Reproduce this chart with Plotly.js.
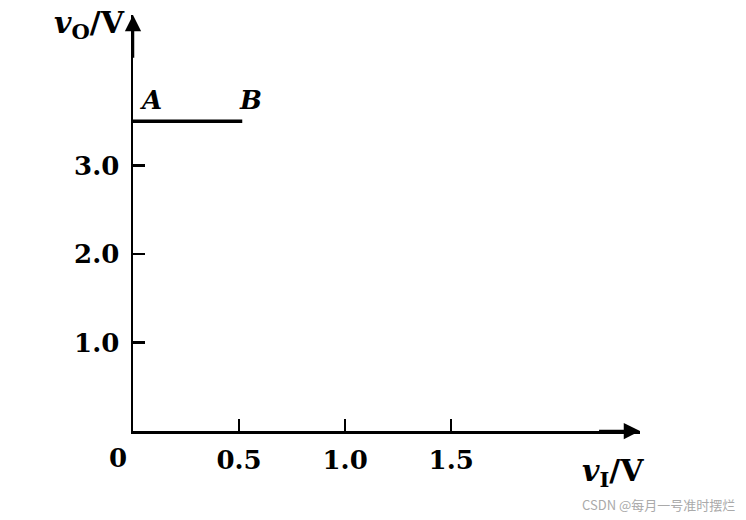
<!DOCTYPE html>
<html>
<head>
<meta charset="utf-8">
<script src="https://cdn.plot.ly/plotly-3.0.1.min.js"></script>
<style>html,body{margin:0;padding:0;background:#fff;}#chart{width:746px;height:520px;}</style>
</head>
<body>
<div id="chart"></div>
<script>
const segX = [0, 0.515];
const segY = [3.5, 3.5];
const xTickVals = [0.5, 1.0, 1.5];
const xTickText = ["0.5", "1.0", "1.5"];
const yTickVals = [1.0, 2.0, 3.0];
const yTickText = ["1.0", "2.0", "3.0"];
const pointLabels = ["A", "B"];
const xMax = 2.39;
const yMax = 4.70;

const serif = "DejaVu Serif, Liberation Serif, serif";

const trace = {
  x: segX, y: segY, mode: "lines", type: "scatter",
  line: {color: "#000", width: 3.5}, hoverinfo: "skip", showlegend: false, cliponaxis: false
};

const layout = {
  width: 746, height: 520,
  margin: {l: 133, r: 106, t: 15, b: 89},
  paper_bgcolor: "#fff", plot_bgcolor: "#fff",
  showlegend: false,
  xaxis: {
    range: [0, xMax], showgrid: false, zeroline: false,
    showline: true, linecolor: "#000", linewidth: 2.5,
    ticks: "inside", ticklen: 12, tickwidth: 2.5, tickcolor: "#000",
    tickvals: xTickVals, ticktext: xTickText.map(t => "<b>" + t + "</b>"),
    tickfont: {family: serif, size: 26, color: "#000"},
    ticklabelstandoff: 4
  },
  yaxis: {
    range: [0, yMax], showgrid: false, zeroline: false,
    showline: true, linecolor: "#000", linewidth: 2.5,
    ticks: "inside", ticklen: 12, tickwidth: 2.5, tickcolor: "#000",
    tickvals: yTickVals, ticktext: yTickText.map(t => "<b>" + t + "</b>"),
    tickfont: {family: serif, size: 26, color: "#000"},
    ticklabelstandoff: 6
  },
  annotations: [
    {xref: "x", yref: "y", axref: "x", ayref: "y", x: xMax, y: 0, ax: xMax - 0.2, ay: 0,
     showarrow: true, arrowhead: 2, arrowsize: 1.3, arrowwidth: 2.5, arrowcolor: "#000", text: ""},
    {xref: "x", yref: "y", axref: "x", ayref: "y", x: 0, y: yMax, ax: 0, ay: yMax - 0.5,
     showarrow: true, arrowhead: 2, arrowsize: 1.3, arrowwidth: 2.5, arrowcolor: "#000", text: ""},
    {xref: "paper", yref: "paper", x: 0, y: 0, xanchor: "right", yanchor: "top", xshift: -4, yshift: -10,
     text: "<b>0</b>", showarrow: false, font: {family: serif, size: 26, color: "#000"}},
    {xref: "x", yref: "y", x: segX[0], y: segY[0], xanchor: "left", yanchor: "bottom", xshift: 4, yshift: 4,
     text: "<b><i>" + pointLabels[0] + "</i></b>", showarrow: false, font: {family: serif, size: 26, color: "#000"}},
    {xref: "x", yref: "y", x: segX[1], y: segY[1], xanchor: "center", yanchor: "bottom", xshift: 8, yshift: 4,
     text: "<b><i>" + pointLabels[1] + "</i></b>", showarrow: false, font: {family: serif, size: 26, color: "#000"}},
    {xref: "paper", yref: "paper", x: 0, y: 1, xanchor: "right", yanchor: "top", xshift: -6, yshift: 12,
     text: "<b><i>v</i><sub>O</sub>/V</b>", showarrow: false, font: {family: serif, size: 30, color: "#000"}},
    {xref: "paper", yref: "paper", x: 1, y: 0, xanchor: "right", yanchor: "top", xshift: 6, yshift: -20,
     text: "<b><i>v</i><sub>I</sub>/V</b>", showarrow: false, font: {family: serif, size: 30, color: "#000"}},
    {xref: "paper", yref: "paper", x: 1, y: 0, xanchor: "right", yanchor: "top", xshift: 97, yshift: -62,
     text: "CSDN @每月一号准时摆烂", showarrow: false, font: {family: "Noto Sans CJK SC, sans-serif", size: 13, color: "#aaa"}}
  ]
};

Plotly.newPlot("chart", [trace], layout, {displayModeBar: false, staticPlot: true});
</script>
</body>
</html>
